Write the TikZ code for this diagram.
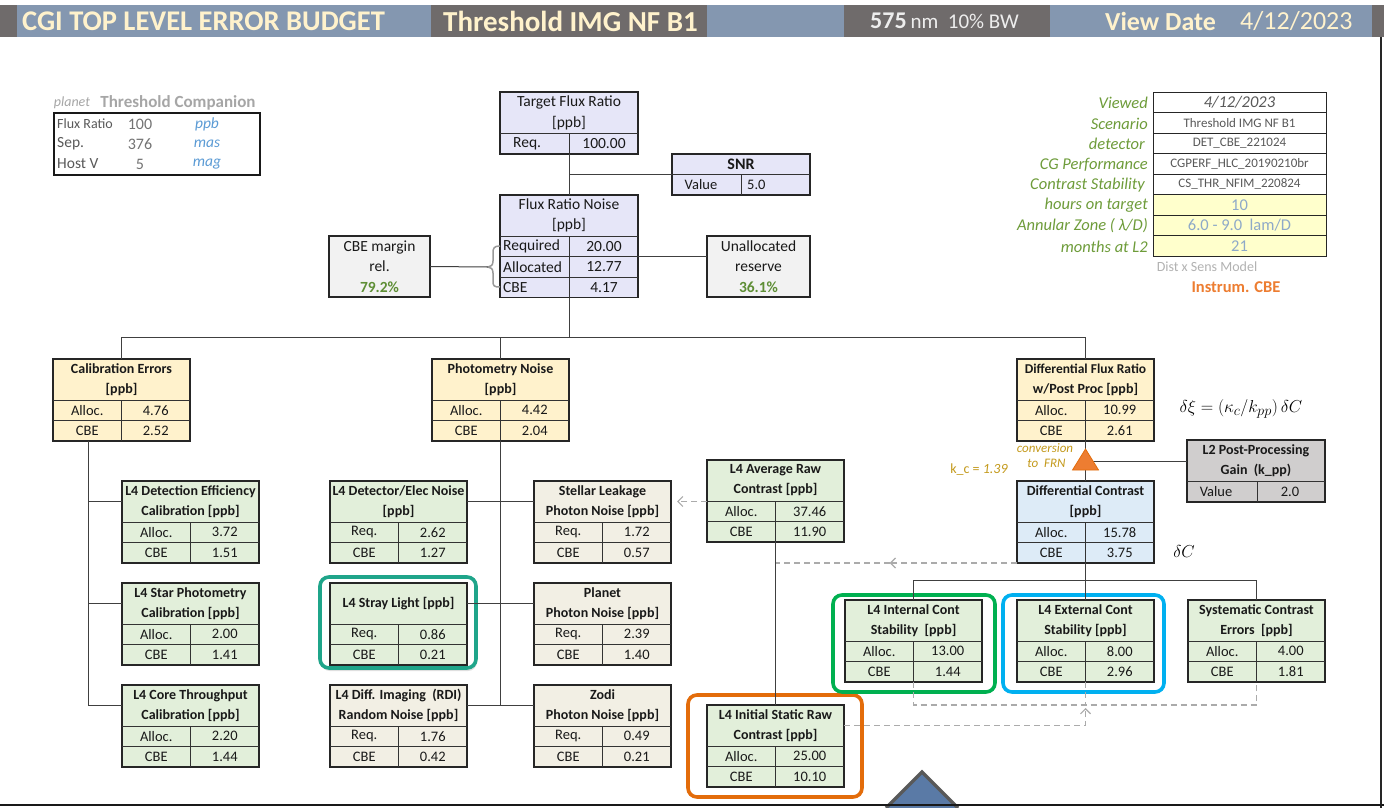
\documentclass[tikz,border=0pt]{standalone}
\usepackage{fontspec}
\setmainfont{Carlito}
\usetikzlibrary{calc,arrows.meta,shadows}
\definecolor{hblue}{HTML}{8497B0}
\definecolor{hdark}{HTML}{6F6B6B}
\definecolor{cream}{HTML}{FFF2CC}
\definecolor{lav}{HTML}{E6E6F8}
\definecolor{yel}{HTML}{FFF2CC}
\definecolor{grn}{HTML}{E2EFDA}
\definecolor{beige}{HTML}{F2EFE4}
\definecolor{blu}{HTML}{DDEBF7}
\definecolor{gry}{HTML}{D0CECE}
\definecolor{lgry}{HTML}{F2F2F2}
\definecolor{pyel}{HTML}{FFFFCC}
\definecolor{glab}{HTML}{6E9C3A}
\definecolor{pctg}{HTML}{5E8E35}
\definecolor{ublue}{HTML}{5B9BD5}
\definecolor{vblue}{HTML}{8EA9C8}
\definecolor{kcy}{HTML}{C49A1C}
\definecolor{orng}{HTML}{ED7D31}
\definecolor{orline}{HTML}{E36C0A}
\definecolor{teal}{HTML}{1FA58A}
\definecolor{gline}{HTML}{00B050}
\definecolor{bline}{HTML}{00B0F0}
\definecolor{tblue}{HTML}{5A7AA6}
\newcommand\fsz[1]{\fontsize{#1}{#1}\selectfont}
\tikzset{
 bx/.style={draw=black!85, line width=1.1pt, anchor=north west, inner sep=0pt, outer sep=0pt},
 inl/.style={draw=black!80, line width=0.9pt},
 ttl/.style={align=center, font=\bfseries\fontsize{14}{20}\selectfont, text=black!90, inner sep=0pt},
 ttr/.style={align=center, font=\fontsize{15.5}{20.5}\selectfont, text=black!90, inner sep=0pt},
 cl/.style={font=\fontsize{14.5}{16}\selectfont, text=black!90, inner sep=0pt},
 cr/.style={font=\fontsize{15.5}{16}\selectfont, text=black!90, inner sep=0pt},
 conn/.style={draw=black!75, line width=1pt},
 dsh/.style={draw=black!33, line width=1.4pt, dash pattern=on 6pt off 4pt},
 barb/.style={-{Straight Barb[length=5pt,width=10pt,line width=1.2pt]}},
 hl/.style={rounded corners=9pt, line width=3.6pt},
 rlab/.style={anchor=east, inner sep=0pt, text=glab, font=\itshape\fsz{16.5}},
 rrow/.style={draw=black!85, line width=0.9pt, anchor=north west, minimum width=173pt, minimum height=20.5pt, inner sep=0pt, outer sep=0pt, text=black!65, font=\fsz{13}},
 hdr/.style={anchor=west, inner sep=0pt, text=cream},
}
% standard box: name, x, y, fill, title, lab1, val1, lab2, val2
\newcommand\ebox[9]{%
 \node[bx, fill=#4, minimum width=137pt, minimum height=82pt] (#1) at (#2,#3) {};
 \draw[inl] (#2,{#3+41}) -- ++(137,0) (#2,{#3+61.5}) -- ++(137,0) ({#2+68.5},{#3+41}) -- ++(0,41);
 \node[ttl] at ({#2+68.5},{#3+20.5}) {#5};
 \node[cl] at ({#2+34.25},{#3+51.25}) {#6};
 \node[cl] at ({#2+102.75},{#3+51.25}) {#7};
 \node[cl] at ({#2+34.25},{#3+71.75}) {#8};
 \node[cl] at ({#2+102.75},{#3+71.75}) {#9};
}
\begin{document}
\begin{tikzpicture}[x=1pt,y=-1pt]
\useasboundingbox (0,0) rectangle (1384,808);
\fill[white] (0,0) rectangle (1384,808);
% ---------- header ----------
\fill[hdark] (0,5) rectangle (17,37);
\fill[hblue] (17,5) rectangle (431,37);
\fill[hdark] (431,5) rectangle (707,37);
\fill[hblue] (707,5) rectangle (844,37);
\fill[hdark] (844,5) rectangle (1050,37);
\fill[hblue] (1050,5) rectangle (1372,37);
\fill[hdark] (1372,5) rectangle (1384,37);
\node[hdr, font=\bfseries\fsz{28.5}] (h1) at (22,21) {CGI TOP LEVEL ERROR BUDGET};
\node[hdr, font=\bfseries\fsz{29}] (h2) at (443,21) {Threshold IMG NF B1};
\node[hdr, text=white!93!black] (h3) at (870,21) {{\bfseries\fsz{24}575}\ \,{\fsz{21}nm\ \ 10\% BW}};
\node[hdr, font=\bfseries\fsz{26}] (h4) at (1105,21) {View Date};
\node[hdr, font=\fsz{26}] (h5) at (1240,21) {4/12/2023};
\draw[black!85, line width=1.2pt] (1381,37) -- (1381,808);
% ---------- companion table ----------
\node[anchor=center, inner sep=0pt, text=black!35, font=\itshape\fsz{14}] (pl) at (72,103) {planet};
\node[anchor=center, inner sep=0pt, text=black!35, font=\bfseries\fsz{17}] (tc) at (178,103) {Threshold Companion};
\node[bx, draw=black!90, minimum width=206pt, minimum height=62pt] (comp) at (54,113) {};
\node[anchor=west, inner sep=0pt, text=black!65, font=\fsz{14}] at (57,124) {Flux Ratio};
\node[anchor=west, inner sep=0pt, text=black!65, font=\fsz{15.5}] at (57,144) {Sep.};
\node[anchor=west, inner sep=0pt, text=black!65, font=\fsz{15.5}] at (57,164) {Host V};
\node[inner sep=0pt, text=black!55, font=\fsz{16}] at (140,124) {100};
\node[inner sep=0pt, text=black!55, font=\fsz{16}] at (140,144) {376};
\node[inner sep=0pt, text=black!55, font=\fsz{16}] at (140,164) {5};
\node[inner sep=0pt, text=ublue, font=\itshape\fsz{15.5}] at (207,124) {ppb};
\node[inner sep=0pt, text=ublue, font=\itshape\fsz{15.5}] at (207,144) {mas};
\node[inner sep=0pt, text=ublue, font=\itshape\fsz{15.5}] at (207,164) {mag};
% ---------- scenario table ----------
\node[rlab] at (1148,103) {Viewed};
\node[rlab] at (1148,123.5) {Scenario};
\node[rlab] at (1145,144) {detector};
\node[rlab] at (1148,164.5) {CG Performance};
\node[rlab] at (1145,185) {Contrast Stability};
\node[rlab] at (1148,205.5) {hours on target};
\node[rlab] at (1148,226) {Annular Zone ( \textit{λ}/D)};
\node[rlab] at (1148,246.5) {months at L2};
\node[rrow, fill=white, font=\itshape\fsz{16.5}] (s1) at (1153,92) {4/12/2023};
\node[rrow, fill=white] (s2) at (1153,112.5) {Threshold IMG NF B1};
\node[rrow, fill=white] (s3) at (1153,133) {DET\_CBE\_221024};
\node[rrow, fill=white] (s4) at (1153,153.5) {CGPERF\_HLC\_20190210br};
\node[rrow, fill=white] (s5) at (1153,174) {CS\_THR\_NFIM\_220824};
\node[rrow, fill=pyel, text=vblue, font=\fsz{16.5}] (s6) at (1153,194.5) {10};
\node[rrow, fill=pyel, text=vblue, font=\fsz{16.5}] (s7) at (1153,215) {6.0 - 9.0\ \ lam/D};
\node[rrow, fill=pyel, text=vblue, font=\fsz{16.5}] (s8) at (1153,235.5) {21};
\node[inner sep=0pt, text=black!30, font=\fsz{14}] (dsm) at (1207,267) {Dist x Sens Model};
\node[inner sep=0pt, text=orng, font=\bfseries\fsz{16.5}] (icbe) at (1236,287) {Instrum. CBE};
% ---------- top boxes ----------
\node[bx, fill=lav, minimum width=138pt, minimum height=62pt] (tfr) at (500,92) {};
\draw[inl] (500,133.5) -- ++(138,0) (569,133.5) -- (569,154);
\node[ttr] at (569,113) {Target Flux Ratio\\{[ppb]}};
\node[cr, anchor=west] at (513,144) {Req.};
\node[cr] at (604,144) {100.00};
\node[bx, fill=lav, minimum width=138pt, minimum height=41pt] (snr) at (672,154) {};
\draw[inl] (672,174.5) -- ++(138,0) (741,174.5) -- (741,195);
\node[ttl, font=\bfseries\fsz{16}] at (741,164.5) {SNR};
\node[cl] at (701,185) {Value};
\node[cl, anchor=west] at (747,185) {5.0};
\node[bx, fill=lav, minimum width=138pt, minimum height=102.5pt] (frn) at (500,195) {};
\draw[inl] (500,236) -- ++(138,0) (500,256.5) -- ++(138,0) (500,277) -- ++(138,0) (569,236) -- (569,297.5);
\node[ttr] at (569,215.5) {Flux Ratio Noise\\{[ppb]}};
\node[cr, anchor=west] at (503,246.5) {Required};
\node[cr, anchor=west] at (503,267) {Allocated};
\node[cr, anchor=west] at (503,287.5) {CBE};
\node[cr] at (604,246.5) {20.00};
\node[cr] at (604,267) {12.77};
\node[cr] at (604,287.5) {4.17};
\node[bx, fill=lgry, minimum width=101pt, minimum height=61pt, align=center, text=black!90, font=\fontsize{15.5}{20.5}\selectfont] (cbem) at (329,236) {CBE margin\\rel.\\\textcolor{pctg}{\bfseries 79.2\%}};
\node[bx, fill=lgry, minimum width=103pt, minimum height=61pt, align=center, text=black!90, font=\fontsize{15.5}{20.5}\selectfont] (unal) at (707,236) {Unallocated\\reserve\\\textcolor{pctg}{\bfseries 36.1\%}};
% brace
\draw[black!40, line width=1.5pt] (500,246) .. controls (494,246) and (493,248) .. (493,253) -- (493,261) .. controls (493,265) and (491,267) .. (488,267) coordinate (btip) .. controls (491,267) and (493,269) .. (493,273) -- (493,281) .. controls (493,286) and (494,287) .. (500,287);
\draw[conn] (cbem.east) -- (btip);
\draw[conn] (tfr.south) -- (frn.north);
\draw[conn] (snr.west) -- (snr.west -| tfr.south);
\draw[conn] ([yshift=10pt]unal.west) -- ([yshift=10pt]unal.west -| frn.east);
% ---------- level 2 ----------
\ebox{calib}{53}{359}{yel}{Calibration Errors\\{[ppb]}}{Alloc.}{4.76}{CBE}{2.52}
\ebox{phot}{432}{359}{yel}{Photometry Noise\\{[ppb]}}{Alloc.}{4.42}{CBE}{2.04}
\ebox{dfr}{1017}{359}{yel}{\fontsize{13.5}{20}\selectfont Differential Flux Ratio\\w/Post Proc [ppb]}{Alloc.}{10.99}{CBE}{2.61}
\coordinate (bus) at (569,337);
\draw[conn] (frn.south) -- (bus);
\draw[conn] (calib.north) -- (calib.north |- bus) -- (dfr.north |- bus) -- (dfr.north);
\draw[conn] (phot.north) -- (phot.north |- bus);
% ---------- calibration children ----------
\ebox{deteff}{122}{481}{grn}{L4 Detection Efficiency\\Calibration [ppb]}{Alloc.}{3.72}{CBE}{1.51}
\ebox{starph}{122}{583}{grn}{L4 Star Photometry\\Calibration [ppb]}{Alloc.}{2.00}{CBE}{1.41}
\ebox{core}{122}{685}{grn}{L4 Core Throughput\\Calibration [ppb]}{Alloc.}{2.20}{CBE}{1.44}
\coordinate (dE) at ([yshift=20.5pt]deteff.west);
\coordinate (dS) at ([yshift=20.5pt]starph.west);
\coordinate (dC) at ([yshift=20.5pt]core.west);
\draw[conn] ([xshift=-33.5pt]calib.south) coordinate (cv) |- (dC);
\draw[conn] (cv |- dE) -- (dE);
\draw[conn] (cv |- dS) -- (dS);
% ---------- photometry children ----------
\draw[hl, draw=teal, fill=white, drop shadow={opacity=0.25, shadow xshift=1pt, shadow yshift=-3pt}] (320,577) rectangle (476,668);
\ebox{detel}{330}{481}{grn}{L4 Detector/Elec Noise\\{[ppb]}}{Req.}{2.62}{CBE}{1.27}
\ebox{stray}{330}{583}{grn}{L4 Stray Light [ppb]}{Req.}{0.86}{CBE}{0.21}
\ebox{rdi}{330}{685}{beige}{L4 Diff. Imaging\ \ (RDI)\\Random Noise [ppb]}{Req.}{1.76}{CBE}{0.42}
\ebox{stel}{534}{481}{beige}{Stellar Leakage\\Photon Noise [ppb]}{Req.}{1.72}{CBE}{0.57}
\ebox{plan}{534}{583}{beige}{Planet\\Photon Noise [ppb]}{Req.}{2.39}{CBE}{1.40}
\ebox{zodi}{534}{685}{beige}{Zodi\\Photon Noise [ppb]}{Req.}{0.49}{CBE}{0.21}
\coordinate (p1) at ([yshift=20.5pt]detel.east);
\coordinate (p2) at ([yshift=20.5pt]stray.east);
\coordinate (p3) at ([yshift=20.5pt]rdi.east);
\draw[conn] (phot.south) -- (phot.south |- p3);
\draw[conn] (p1) -- ([yshift=20.5pt]stel.west);
\draw[conn] (p2) -- ([yshift=20.5pt]plan.west);
\draw[conn] (p3) -- ([yshift=20.5pt]zodi.west);
% ---------- contrast branch ----------
\ebox{avgr}{707}{460}{grn}{L4 Average Raw\\Contrast [ppb]}{Alloc.}{37.46}{CBE}{11.90}
\draw[hl, draw=orline] (688,695) rectangle (862,797);
\ebox{inis}{707}{705}{grn}{L4 Initial Static Raw\\Contrast [ppb]}{Alloc.}{25.00}{CBE}{10.10}
\coordinate (sL) at ([yshift=20.5pt]stel.east);
\draw[dsh, barb] (avgr.west |- sL) -- ([xshift=6pt]sL);
\draw[conn] (avgr.south) -- (inis.north);
\ebox{dfc}{1017}{481}{blu}{Differential Contrast\\{[ppb]}}{Alloc.}{15.78}{CBE}{3.75}
\draw[conn] (dfc.north) -- (dfr.south);
% L2 post-processing
\node[bx, fill=gry, minimum width=138pt, minimum height=62pt] (l2pp) at (1187,440) {};
\draw[inl] (1187,481) -- ++(138,0) (1257,481) -- (1257,502);
\node[ttl] at (1256,461) {L2 Post-Processing\\Gain\ \ (k\_pp)};
\node[cl] at (1216,492) {Value};
\node[cl] at (1290,492) {2.0};
\draw[conn] ([yshift=10pt]l2pp.west) -- ([yshift=10pt]l2pp.west -| dfc.north);
\draw[fill=orng, draw=orline, line width=0.8pt] (1072.5,470) -- (1085.5,449) -- (1098.5,470) -- cycle;
\coordinate (tri) at (1085.5,460);
\node[inner sep=0pt, text=kcy, font=\itshape\fontsize{13}{15}\selectfont, align=center] (conv) at (1045,456) {conversion\\\ to\ \ FRN};
\node[inner sep=0pt, text=kcy, font=\fsz{14}] (kc) at (979,470) {k\_c = \textit{1.39}};
\node[inner sep=0pt, font=\fsz{19}] (eq) at (1241,409) {$\delta\xi = (\kappa_c/k_{pp})\,\delta C$};
\node[inner sep=0pt, font=\fsz{19}] (dC2) at (1184,551) {$\delta C$};
% dashed DC -> avg raw line
\coordinate (dmid) at ($(dfc.south west)!0.527!(dfc.south west -| avgr.south)$);
\draw[dsh, barb] (dfc.south west) -- (dmid);
\draw[dsh] (dmid) -- (dfc.south west -| avgr.south);
% children of differential contrast
\draw[hl, draw=gline] (833,595) rectangle (995,692);
\draw[hl, draw=bline] (1003,595) rectangle (1164,692);
\ebox{intc}{845}{600}{grn}{L4 Internal Cont\\Stability\ \ [ppb]}{Alloc.}{13.00}{CBE}{1.44}
\ebox{extc}{1017}{600}{grn}{L4 External Cont\\Stability [ppb]}{Alloc.}{8.00}{CBE}{2.96}
\ebox{sysc}{1188}{600}{grn}{Systematic Contrast\\Errors\ \ [ppb]}{Alloc.}{4.00}{CBE}{1.81}
\coordinate (bus2) at (1085.5,580);
\draw[conn] (dfc.south) -- (extc.north);
\draw[conn] (intc.north) -- (intc.north |- bus2) -- (sysc.north |- bus2) -- (sysc.north);
\coordinate (b3) at (1085.5,705);
\draw[dsh] (intc.south) -- (intc.south |- b3) -- (sysc.south |- b3) -- (sysc.south);
\draw[dsh] (extc.south) -- (b3);
\draw[dsh, barb] ([yshift=20.5pt]inis.east) -| ([yshift=-3pt]b3);
% bottom
\draw[fill=tblue, draw=black!65, line width=3.5pt, line join=miter] (886,808) -- (922,772) -- (958,808);
\draw[black!90, line width=1.4pt] (0,805) -- (1384,805);
\end{tikzpicture}
\end{document}
